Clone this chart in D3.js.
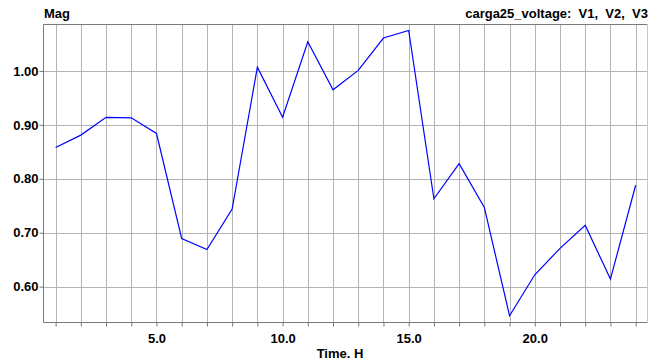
<!DOCTYPE html>
<html lang="en">
<head>
<meta charset="UTF-8">
<title>carga25_voltage</title>
<script src="https://cdn.jsdelivr.net/npm/d3@7"></script>
<style>
  body { margin: 0; background: #fff; }
  text { font-family: "Liberation Sans", Arial, sans-serif; font-weight: bold; fill: #000; }
</style>
</head>
<body>
<script>
var w = 665;
var h = 363;

// hours and voltage magnitude (pu)
var hours = [1, 2, 3, 4, 5, 6, 7, 8, 9, 10, 11, 12, 13, 14, 15, 16, 17, 18, 19, 20, 21, 22, 23, 24];
var mag = [0.858, 0.881, 0.914, 0.913, 0.884, 0.689, 0.669, 0.744, 1.007, 0.914, 1.054, 0.965,
           1.001, 1.061, 1.075, 0.763, 0.828, 0.747, 0.546, 0.622, 0.671, 0.714, 0.614, 0.788];

var xLabelTicks = [5, 10, 15, 20];
var yTicks = [0.6, 0.7, 0.8, 0.9, 1.0];

var pLeft = 43, pRight = 647, pTop = 24, pBottom = 322;

var x = d3.scaleLinear().domain([0.5, 24.45]).range([pLeft, pRight]);
var y = d3.scaleLinear().domain([0.5345, 1.087]).range([pBottom, pTop]);

var svg = d3.select("body").append("svg")
    .attr("width", w)
    .attr("height", h);

// grid
svg.append("g").selectAll("line")
    .data(hours)
    .enter().append("line")
    .attr("x1", function(d) { return Math.round(x(d)) + 0.5; })
    .attr("x2", function(d) { return Math.round(x(d)) + 0.5; })
    .attr("y1", pTop).attr("y2", pBottom)
    .attr("stroke", "#b4b4b4").attr("stroke-width", 1);

svg.append("g").selectAll("line")
    .data(yTicks)
    .enter().append("line")
    .attr("x1", pLeft).attr("x2", pRight)
    .attr("y1", function(d) { return Math.round(y(d)) + 0.5; })
    .attr("y2", function(d) { return Math.round(y(d)) + 0.5; })
    .attr("stroke", "#b4b4b4").attr("stroke-width", 1);

// x axis
var xAxis = d3.axisBottom(x).tickValues(hours).tickSize(4)
    .tickFormat(function(d) { return xLabelTicks.indexOf(d) >= 0 ? d3.format(".1f")(d) : ""; });
var gx = svg.append("g").attr("transform", "translate(0," + (pBottom + 0.5) + ")").call(xAxis);
gx.select(".domain").remove();
gx.selectAll(".tick line").attr("stroke", "#777");
gx.selectAll(".tick text").attr("y", 11).style("font-size", "13px");

// y axis
var yAxis = d3.axisLeft(y).tickValues(yTicks).tickSize(4).tickFormat(d3.format(".2f"));
var gy = svg.append("g").attr("transform", "translate(" + (pLeft + 0.5) + ",0)").call(yAxis);
gy.select(".domain").remove();
gy.selectAll(".tick line").attr("stroke", "#777");
gy.selectAll(".tick text").attr("x", -5).style("font-size", "13px");

// frame
svg.append("path")
    .attr("d", "M" + (pRight + 0.5) + "," + (pTop + 0.5) + "H" + (pLeft + 0.5) + "V" + (pBottom + 0.5) + "H" + (pRight + 0.5))
    .attr("fill", "none").attr("stroke", "#7a7a7a");
svg.append("line")
    .attr("x1", pRight + 0.5).attr("x2", pRight + 0.5)
    .attr("y1", pTop).attr("y2", pBottom)
    .attr("stroke", "#c8c8c8");

// series
var line = d3.line()
    .x(function(d, i) { return x(hours[i]); })
    .y(function(d) { return y(d); });

svg.append("path")
    .datum(mag)
    .attr("d", line)
    .attr("fill", "none")
    .attr("stroke", "#0000ff")
    .attr("stroke-width", 1.2);

// labels
svg.append("text").attr("x", pLeft + 1).attr("y", 18).style("font-size", "13px").text("Mag");
svg.append("text").attr("x", pRight + 1).attr("y", 18).attr("text-anchor", "end")
    .style("font-size", "13px").style("white-space", "pre")
    .text("carga25_voltage:  V1,  V2,  V3");
svg.append("text").attr("x", 340).attr("y", 358).attr("text-anchor", "middle")
    .style("font-size", "13px").text("Time. H");
</script>
</body>
</html>
